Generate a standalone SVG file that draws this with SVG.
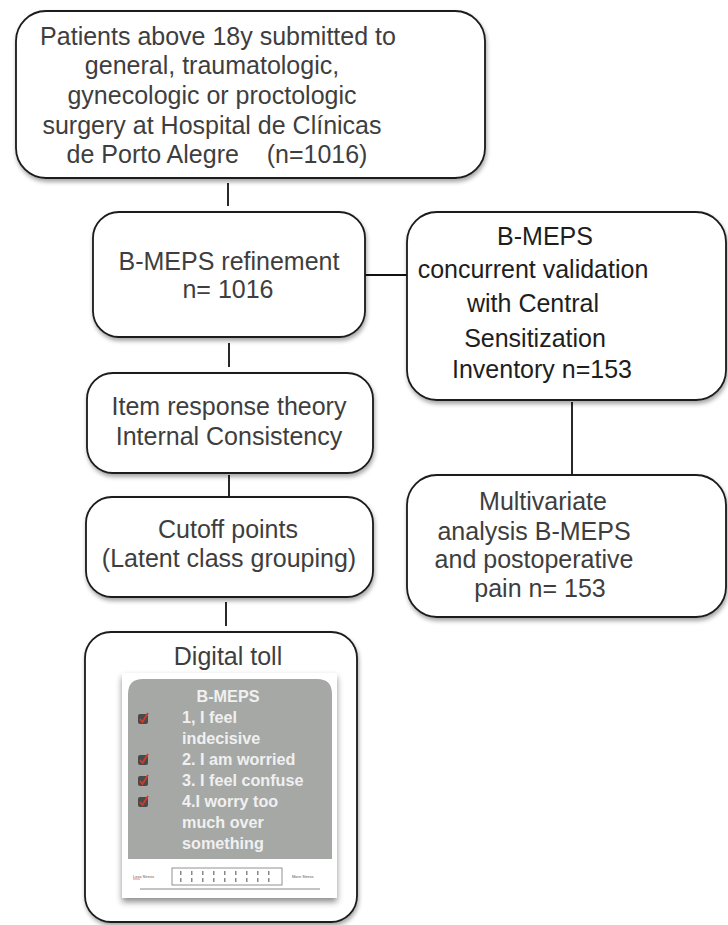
<svg xmlns="http://www.w3.org/2000/svg" width="728" height="925" viewBox="0 0 728 925">
<defs>
<filter id="sh" x="-10%" y="-10%" width="120%" height="125%">
<feDropShadow dx="1" dy="3" stdDeviation="2" flood-color="#000" flood-opacity="0.35"/>
</filter>
<filter id="sh2" x="-10%" y="-10%" width="120%" height="130%">
<feDropShadow dx="0" dy="4" stdDeviation="3" flood-color="#000" flood-opacity="0.45"/>
</filter>
<style>
.box{fill:#fff;stroke:#1a1a1a;stroke-width:1.8;filter:url(#sh)}
.t{font-family:"Liberation Sans",Arial,sans-serif;font-size:25px;fill:#3e3e3e;text-anchor:middle}
.d{fill:#1e1e1e}
.c{stroke:#111;stroke-width:1.8;fill:none}
.p{font-family:"Liberation Sans",Arial,sans-serif;font-size:16.2px;font-weight:bold;fill:#f0f0f0}
.s{font-family:"Liberation Sans",Arial,sans-serif;font-size:4px;fill:#555}
</style>
<g id="chk">
<rect x="-5" y="-5" width="10" height="10" rx="2" fill="#4a4a4a"/>
<path d="M-3,0 L-0.5,3 L5,-6" stroke="#d23a2a" stroke-width="1.8" fill="none"/>
</g>
</defs>

<g id="connectors">
<line class="c" x1="228" y1="183" x2="228" y2="206"/>
<line class="c" x1="229" y1="343" x2="229" y2="367"/>
<line class="c" x1="229" y1="475" x2="229" y2="497"/>
<line class="c" x1="226" y1="602" x2="226" y2="626"/>
<line class="c" x1="365" y1="275" x2="407" y2="275"/>
<line class="c" x1="572" y1="402" x2="572" y2="475"/>
</g>

<g id="n1">
<rect class="box" x="16" y="11" width="469" height="167" rx="30"/>
<text class="t" x="218" y="45">Patients above 18y submitted to</text>
<text class="t" x="212" y="74">general, traumatologic,</text>
<text class="t" x="212" y="104">gynecologic or proctologic</text>
<text class="t" x="212" y="134">surgery at Hospital de Clínicas</text>
<text class="t" x="217" y="163" xml:space="preserve">de Porto Alegre    (n=1016)</text>
</g>

<g id="n2">
<rect class="box" x="93" y="212" width="272" height="125" rx="26"/>
<text class="t" x="229" y="270">B-MEPS refinement</text>
<text class="t" x="228" y="298">n= 1016</text>
</g>

<g id="n3">
<rect class="box" x="87" y="373" width="286" height="100" rx="26"/>
<text class="t" x="229" y="415">Item response theory</text>
<text class="t" x="229" y="445">Internal Consistency</text>
</g>

<g id="n4">
<rect class="box" x="86" y="497" width="287" height="100" rx="26"/>
<text class="t" x="228" y="538">Cutoff points</text>
<text class="t" x="229" y="567">(Latent class grouping)</text>
</g>

<g id="nA">
<rect class="box" x="407" y="212" width="319" height="188" rx="30"/>
<text class="t d" x="545" y="245">B-MEPS</text>
<text class="t d" x="533" y="278">concurrent validation</text>
<text class="t d" x="533" y="312">with Central</text>
<text class="t d" x="535" y="347">Sensitization</text>
<text class="t d" x="542" y="378">Inventory n=153</text>
</g>

<g id="nB">
<rect class="box" x="407" y="475" width="319" height="142" rx="30"/>
<text class="t" x="543" y="510">Multivariate</text>
<text class="t" x="534" y="540">analysis B-MEPS</text>
<text class="t" x="534" y="568">and postoperative</text>
<text class="t" x="540" y="597">pain n= 153</text>
</g>

<g id="n5">
<rect class="box" x="85" y="632" width="272" height="290" rx="26"/>
<text class="t" x="228" y="665">Digital toll</text>
<rect x="122" y="673" width="215" height="225" fill="#fff" filter="url(#sh2)"/>
<rect x="122" y="673" width="215" height="225" fill="#fff"/>
<path d="M128,859 L128,694 Q128,679 143,679 L317,679 Q332,679 332,694 L332,859 Z" fill="#a6a8a6"/>
<text class="p" x="228" y="702" text-anchor="middle">B-MEPS</text>
<use href="#chk" x="143" y="719"/>
<use href="#chk" x="143" y="760"/>
<use href="#chk" x="143" y="781"/>
<use href="#chk" x="143" y="802"/>
<text class="p" x="182" y="723">1, I feel</text>
<text class="p" x="182" y="744">indecisive</text>
<text class="p" x="182" y="765">2. I am worried</text>
<text class="p" x="182" y="786">3. I feel confuse</text>
<text class="p" x="182" y="807">4.I worry too</text>
<text class="p" x="182" y="828">much over</text>
<text class="p" x="182" y="849">something</text>
<text class="s" x="133" y="878">Less Stress</text>
<line x1="133" y1="879" x2="140" y2="879" stroke="#d33" stroke-width="0.6"/>
<rect x="172" y="868" width="110" height="17" fill="#fff" stroke="#777" stroke-width="0.8"/>
<g fill="#888">
<rect x="180" y="871" width="1.5" height="4"/><rect x="180" y="878" width="1.5" height="4"/>
<rect x="191" y="871" width="1.5" height="4"/><rect x="191" y="878" width="1.5" height="4"/>
<rect x="202" y="871" width="1.5" height="4"/><rect x="202" y="878" width="1.5" height="4"/>
<rect x="213" y="871" width="1.5" height="4"/><rect x="213" y="878" width="1.5" height="4"/>
<rect x="224" y="871" width="1.5" height="4"/><rect x="224" y="878" width="1.5" height="4"/>
<rect x="235" y="871" width="1.5" height="4"/><rect x="235" y="878" width="1.5" height="4"/>
<rect x="246" y="871" width="1.5" height="4"/><rect x="246" y="878" width="1.5" height="4"/>
<rect x="257" y="871" width="1.5" height="4"/><rect x="257" y="878" width="1.5" height="4"/>
<rect x="268" y="871" width="1.5" height="4"/><rect x="268" y="878" width="1.5" height="4"/>
</g>
<text class="s" x="292" y="878">More Stress</text>
<line x1="140" y1="889" x2="320" y2="889" stroke="#888" stroke-width="1"/>
</g>
</svg>
